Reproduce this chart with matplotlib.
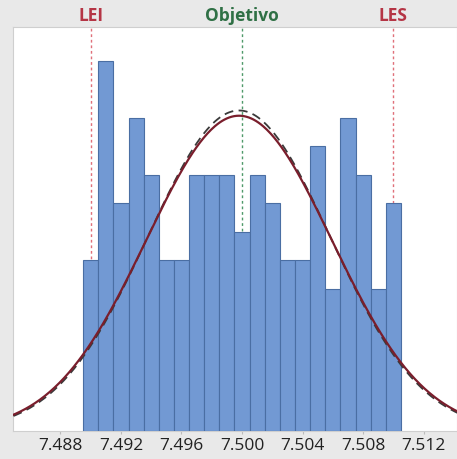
import numpy as np
import matplotlib
matplotlib.use("Agg")
import matplotlib.pyplot as plt

# Data
bin_edges_start = 7.4895
bin_width = 0.001
counts = [6, 13, 8, 11, 9, 6, 6, 9, 9, 9, 7, 9, 8, 6, 6, 10, 5, 11, 9, 5, 8]
tick_values = [7.488, 7.492, 7.496, 7.500, 7.504, 7.508, 7.512]
tick_labels = ["7.488", "7.492", "7.496", "7.500", "7.504", "7.508", "7.512"]
lei, objetivo, les = 7.490, 7.500, 7.510
mean_fit = 7.4998
sigma_overall = 0.00612
sigma_within = 0.00602

n = sum(counts)
lefts = [bin_edges_start + i * bin_width for i in range(len(counts))]

fig = plt.figure(figsize=(4.57, 4.60), dpi=100)
fig.patch.set_facecolor("#e9e9e9")
ax = fig.add_axes([13/457, 1-432/460, 1-13/457, (432-28)/460])
ax.set_facecolor("white")

ax.bar(lefts, counts, width=bin_width, align="edge", color="#7299d3",
       edgecolor="#4a6ea3", linewidth=0.8, zorder=3)

xs = np.linspace(7.484, 7.516, 400)
def npdf(x, m, s):
    return n * bin_width / (s * np.sqrt(2 * np.pi)) * np.exp(-0.5 * ((x - m) / s) ** 2)
ax.plot(xs, npdf(xs, mean_fit, sigma_within), color="#3a3a3a", lw=1.3,
        ls=(0, (5, 3)), zorder=4)
ax.plot(xs, npdf(xs, mean_fit, sigma_overall), color="#7a1e2c", lw=1.6, zorder=5)

ax.axvline(lei, color="#e0707a", ls=(0, (2, 2)), lw=1.0, zorder=2)
ax.axvline(les, color="#e0707a", ls=(0, (2, 2)), lw=1.0, zorder=2)
ax.axvline(objetivo, color="#4f9a6a", ls=(0, (2, 2)), lw=1.0, zorder=2)

ax.set_xlim(7.48487, 7.51420)
ax.set_ylim(0, 14.2)
ax.set_yticks([])
ax.set_xticks(tick_values)
ax.set_xticklabels(tick_labels, fontsize=12.5, color="#222222", family="Open Sans")
ax.tick_params(axis="x", length=2, color="#bbbbbb", pad=2)
for sp in ax.spines.values():
    sp.set_color("#cfcfcf")
    sp.set_linewidth(0.8)

trans = ax.get_xaxis_transform()
ax.text(lei, 1.008, "LEI", transform=trans, ha="center", va="bottom",
        color="#b53545", fontsize=12.5, fontweight="bold", family="Open Sans")
ax.text(objetivo, 1.008, "Objetivo", transform=trans, ha="center", va="bottom",
        color="#2f7045", fontsize=12.5, fontweight="bold", family="Open Sans")
ax.text(les, 1.008, "LES", transform=trans, ha="center", va="bottom",
        color="#b53545", fontsize=12.5, fontweight="bold", family="Open Sans")

fig.savefig("out.png", dpi=100, facecolor=fig.get_facecolor())
